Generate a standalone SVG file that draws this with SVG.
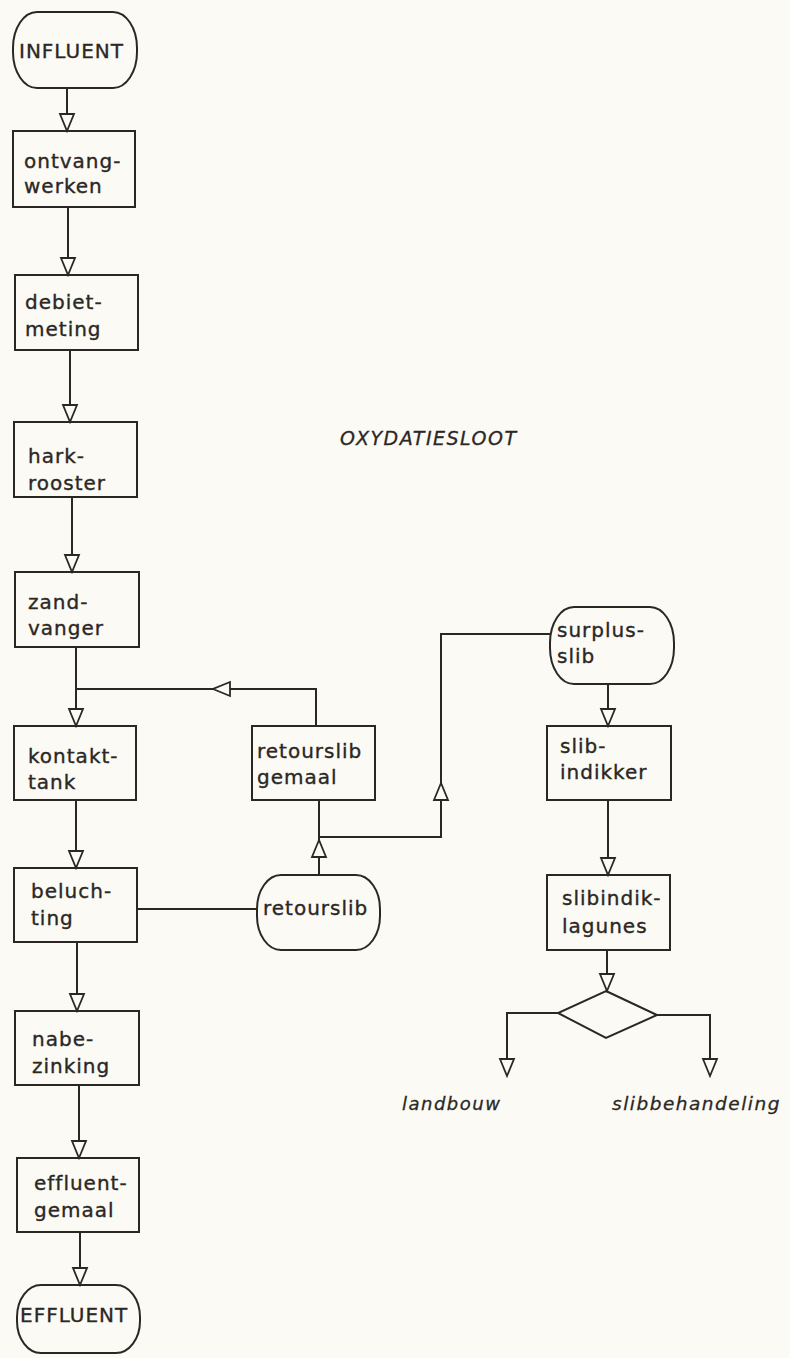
<svg xmlns="http://www.w3.org/2000/svg" width="790" height="1358" viewBox="0 0 790 1358">
<defs>
<style>
.bg{fill:#fbfaf4}
.box{fill:none;stroke:#2b2725;stroke-width:2}
.ln{fill:none;stroke:#2b2725;stroke-width:2}
.t{font-family:"DejaVu Sans",sans-serif;font-size:20px;letter-spacing:1px;fill:#2b2725;stroke:#2b2725;stroke-width:0.35px}
.i{font-family:"DejaVu Sans",sans-serif;font-size:19px;font-style:italic;letter-spacing:1.5px;fill:#2b2725;stroke:#2b2725;stroke-width:0.3px}
</style>
<marker id="ah" viewBox="-20 -10 22 20" refX="0" refY="0" markerWidth="22" markerHeight="20" markerUnits="userSpaceOnUse" orient="auto">
<path d="M0,0 L-17,-7 L-17,7 Z" fill="#fbfaf4" stroke="#2b2725" stroke-width="1.8" stroke-linejoin="miter"/>
</marker>
</defs>
<rect class="bg" x="0" y="0" width="790" height="1358"/>

<g id="connectors">
<path class="ln" d="M67,88 L67,131" marker-end="url(#ah)"/>
<path class="ln" d="M68,207 L68,275" marker-end="url(#ah)"/>
<path class="ln" d="M70,350 L70,422" marker-end="url(#ah)"/>
<path class="ln" d="M72,497 L72,572" marker-end="url(#ah)"/>
<path class="ln" d="M76,647 L76,726" marker-end="url(#ah)"/>
<path class="ln" d="M76,800 L76,868" marker-end="url(#ah)"/>
<path class="ln" d="M77,942 L77,1011" marker-end="url(#ah)"/>
<path class="ln" d="M79,1085 L79,1158" marker-end="url(#ah)"/>
<path class="ln" d="M80,1232 L80,1285" marker-end="url(#ah)"/>
<path class="ln" d="M137,909 L257,909"/>
<path class="ln" d="M213,689 L76,689"/>
<path class="ln" d="M316,726 L316,689 L213,689" marker-end="url(#ah)"/>
<path class="ln" d="M319,840 L319,800"/>
<path class="ln" d="M319,875 L319,840" marker-end="url(#ah)"/>
<path class="ln" d="M441,783 L441,634 L551,634"/>
<path class="ln" d="M319,837 L441,837 L441,783" marker-end="url(#ah)"/>
<path class="ln" d="M608,684 L608,726" marker-end="url(#ah)"/>
<path class="ln" d="M608,800 L608,875" marker-end="url(#ah)"/>
<path class="ln" d="M607,950 L607,991" marker-end="url(#ah)"/>
<path class="ln" d="M558,1013 L507,1013 L507,1076" marker-end="url(#ah)"/>
<path class="ln" d="M657,1015 L710,1015 L710,1076" marker-end="url(#ah)"/>
</g>

<g id="influent">
<rect class="box" x="13" y="12" width="124" height="76" rx="24" ry="36"/>
<text class="t" x="19" y="58">INFLUENT</text>
</g>
<g id="ontvangwerken">
<rect class="box" x="13" y="131" width="122" height="76"/>
<text class="t" x="24" y="168">ontvang-</text>
<text class="t" x="24" y="193">werken</text>
</g>
<g id="debietmeting">
<rect class="box" x="15" y="275" width="123" height="75"/>
<text class="t" x="25" y="309">debiet-</text>
<text class="t" x="25" y="336">meting</text>
</g>
<g id="harkrooster">
<rect class="box" x="14" y="422" width="123" height="75"/>
<text class="t" x="28" y="463">hark-</text>
<text class="t" x="28" y="490">rooster</text>
</g>
<g id="zandvanger">
<rect class="box" x="15" y="572" width="124" height="75"/>
<text class="t" x="28" y="609">zand-</text>
<text class="t" x="28" y="635">vanger</text>
</g>
<g id="kontakttank">
<rect class="box" x="14" y="726" width="122" height="74"/>
<text class="t" x="28" y="763">kontakt-</text>
<text class="t" x="28" y="789">tank</text>
</g>
<g id="retourslibgemaal">
<rect class="box" x="252" y="726" width="123" height="74"/>
<text class="t" x="257" y="758">retourslib</text>
<text class="t" x="257" y="784">gemaal</text>
</g>
<g id="beluchting">
<rect class="box" x="14" y="868" width="123" height="74"/>
<text class="t" x="31" y="898">beluch-</text>
<text class="t" x="31" y="925">ting</text>
</g>
<g id="retourslib">
<rect class="box" x="257" y="875" width="123" height="75" rx="24" ry="34"/>
<text class="t" x="263" y="915">retourslib</text>
</g>
<g id="nabezinking">
<rect class="box" x="15" y="1011" width="124" height="74"/>
<text class="t" x="32" y="1046">nabe-</text>
<text class="t" x="32" y="1073">zinking</text>
</g>
<g id="effluentgemaal">
<rect class="box" x="17" y="1158" width="122" height="74"/>
<text class="t" x="34" y="1190">effluent-</text>
<text class="t" x="34" y="1217">gemaal</text>
</g>
<g id="effluent">
<rect class="box" x="17" y="1285" width="123" height="68" rx="24" ry="32"/>
<text class="t" x="20" y="1322">EFFLUENT</text>
</g>
<g id="surplusslib">
<rect class="box" x="550" y="607" width="124" height="77" rx="24" ry="36"/>
<text class="t" x="557" y="637">surplus-</text>
<text class="t" x="557" y="663">slib</text>
</g>
<g id="slibindikker">
<rect class="box" x="547" y="726" width="124" height="74"/>
<text class="t" x="560" y="753">slib-</text>
<text class="t" x="560" y="779">indikker</text>
</g>
<g id="slibindiklagunes">
<rect class="box" x="547" y="875" width="123" height="75"/>
<text class="t" x="562" y="905">slibindik-</text>
<text class="t" x="562" y="933">lagunes</text>
</g>
<g id="splitsing">
<polygon class="box" points="606,991 657,1015 606,1038 558,1013"/>
</g>
<g id="labels">
<text class="i" x="340" y="445">OXYDATIESLOOT</text>
<text class="i" x="402" y="1110" style="font-size:18px">landbouw</text>
<text class="i" x="612" y="1110" style="font-size:18.5px">slibbehandeling</text>
</g>
</svg>
